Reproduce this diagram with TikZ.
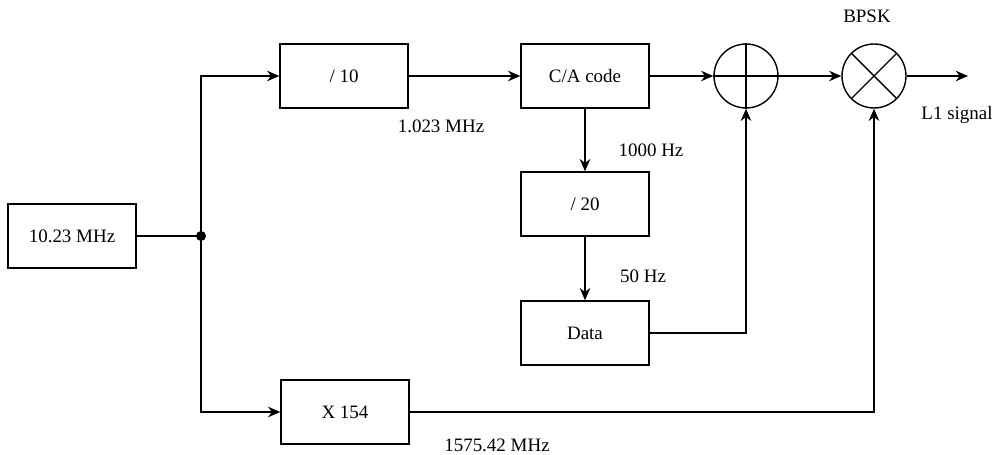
\documentclass[tikz,border=0pt]{standalone}
\usepackage{fontspec}
\setmainfont{Liberation Serif}
\usepackage{tikz}
\usetikzlibrary{arrows.meta, positioning}

\tikzset{
  blk/.style={draw, minimum width=2.56cm, minimum height=1.28cm, inner sep=0pt},
  mix/.style={draw, circle, minimum size=1.28cm, inner sep=0pt},
  lbl/.style={inner sep=0pt}
}

\begin{document}
\begin{tikzpicture}[x=0.02cm, y=-0.02cm, font=\fontsize{10.8}{13}\selectfont,
    line width=0.8pt, >={Stealth[length=7pt, width=6pt]}]
  \useasboundingbox (0,0) rectangle (998,455);

  % blocks
  \node[blk] (osc) at (72,236) {10.23 MHz};
  \node[blk] (div10) at (344,76) {/ 10};
  \node[blk] (ca) at (585,76) {C/A code};
  \node[blk] (div20) at (585,204) {/ 20};
  \node[blk] (data) at (585,333) {Data};
  \node[blk] (mul) at (345,412) {X 154};

  % adder and BPSK mixer
  \node[mix] (add) at (746,76) {};
  \draw (add.north) -- (add.south) (add.west) -- (add.east);
  \node[mix] (bpsk) at (874,76) {};
  \draw (bpsk.north west) -- (bpsk.south east) (bpsk.north east) -- (bpsk.south west);

  \coordinate (jn) at (201,236);
  \coordinate (out) at (968,76);

  % connections
  \draw (osc) -- (jn);
  \fill (jn) circle[radius=0.1cm];
  \draw[->] (jn) |- (div10);
  \draw[->] (jn) |- (mul);
  \draw[->] (div10) -- (ca);
  \draw[->] (ca) -- (add);
  \draw[->] (add) -- (bpsk);
  \draw[->] (bpsk) -- (out);
  \draw[->] (ca) -- (div20);
  \draw[->] (div20) -- (data);
  \draw[->] (data) -| (add);
  \draw[->] (mul) -| (bpsk);

  % frequency labels
  \node[lbl] (f1) at (441,126) {1.023 MHz};
  \node[lbl] (f2) at (651,150) {1000 Hz};
  \node[lbl] (f3) at (643,276) {50 Hz};
  \node[lbl] (f4) at (497,445) {1575.42 MHz};
  \node[lbl] (bpsklbl) at (867,16) {BPSK};
  \node[lbl] (l1) at (957,115) {L1 signal};
\end{tikzpicture}
\end{document}
